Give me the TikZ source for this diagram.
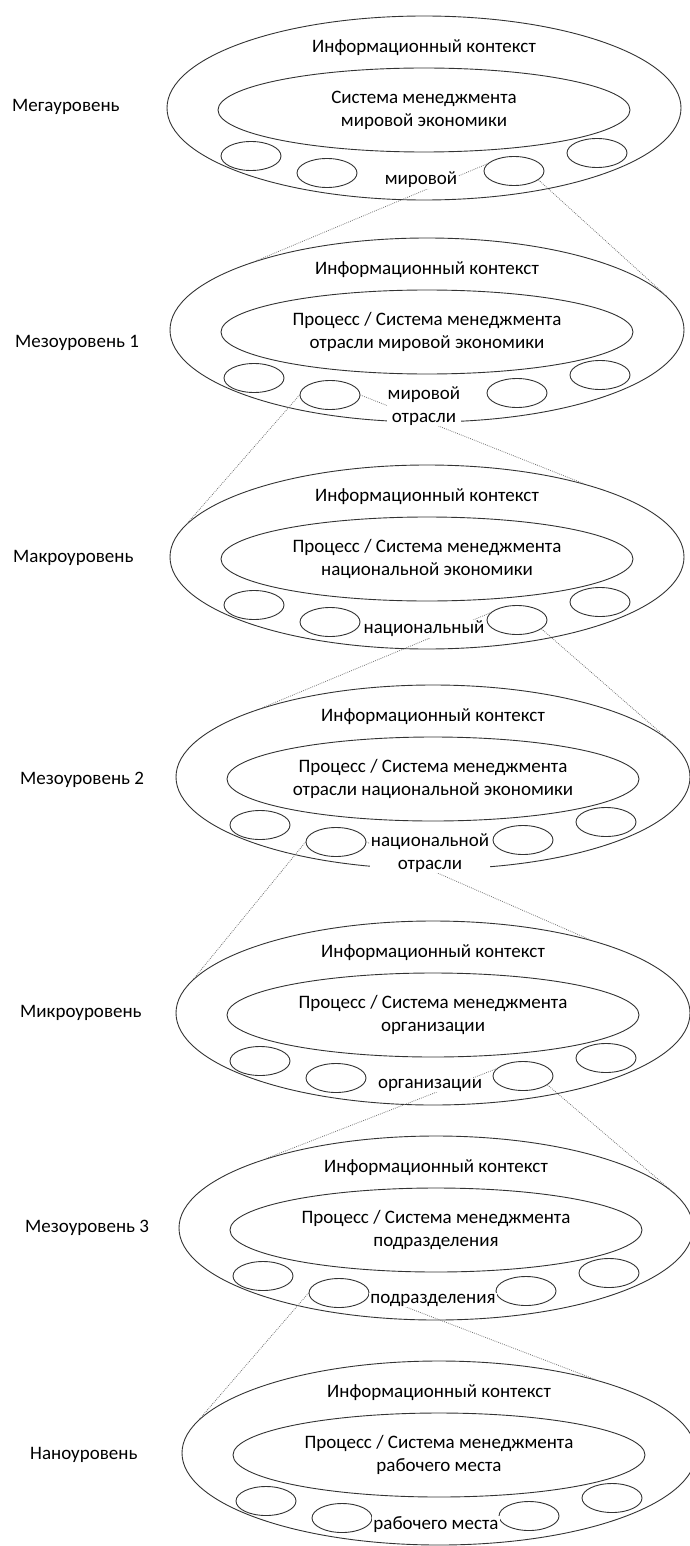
\documentclass[tikz,border=0pt]{standalone}
\usepackage{fontspec}
\setmainfont{Carlito}
\usetikzlibrary{shapes.geometric}

\begin{document}
\begin{tikzpicture}[
        x=1pt, y=-1pt,
        font=\fontsize{19}{23}\selectfont,
        context/.style={ellipse, draw=black!80, line width=0.9pt, minimum width=514pt, minimum height=184pt, inner sep=0pt},
        system/.style={ellipse, draw=black!80, line width=0.9pt, minimum width=412pt, minimum height=84pt, inner sep=0pt, align=center},
        unit/.style={ellipse, draw=black!80, line width=0.9pt, minimum width=60pt, minimum height=29pt, inner sep=0pt},
        levellabel/.style={anchor=west, inner sep=0pt},
        scopelabel/.style={fill=white, inner sep=1pt, align=center},
        zoomline/.style={draw=black!55, line width=0.8pt, dash pattern=on 0.8pt off 1.2pt}
    ]
    \useasboundingbox (0,0) rectangle (690,1546);

    % outer ellipses, systems and units
    \node[context] (ctx1) at (424,108) {};
    \node[system] (sys1) at (424,110) {Система менеджмента\\мировой экономики};
    \node[unit] (u1a) at (251,156) {};
    \node[unit] (u1b) at (327,173) {};
    \node[unit] (u1c) at (514,171) {};
    \node[unit] (u1d) at (597,153) {};

    \node[context] (ctx2) at (427,330) {};
    \node[system] (sys2) at (427,332) {Процесс / Система менеджмента\\отрасли мировой экономики};
    \node[unit] (u2a) at (254,378) {};
    \node[unit] (u2b) at (330,395) {};
    \node[unit] (u2c) at (517,393) {};
    \node[unit] (u2d) at (600,375) {};

    \node[context] (ctx3) at (427,557) {};
    \node[system] (sys3) at (427,559) {Процесс / Система менеджмента\\национальной экономики};
    \node[unit] (u3a) at (254,605) {};
    \node[unit] (u3b) at (330,622) {};
    \node[unit] (u3c) at (517,620) {};
    \node[unit] (u3d) at (600,602) {};

    \node[context] (ctx4) at (433,777) {};
    \node[system] (sys4) at (433,779) {Процесс / Система менеджмента\\отрасли национальной экономики};
    \node[unit] (u4a) at (260,825) {};
    \node[unit] (u4b) at (336,842) {};
    \node[unit] (u4c) at (523,840) {};
    \node[unit] (u4d) at (606,822) {};

    \node[context] (ctx5) at (433,1013) {};
    \node[system] (sys5) at (433,1015) {Процесс / Система менеджмента\\организации};
    \node[unit] (u5a) at (260,1061) {};
    \node[unit] (u5b) at (336,1078) {};
    \node[unit] (u5c) at (523,1076) {};
    \node[unit] (u5d) at (606,1058) {};

    \node[context] (ctx6) at (436,1228) {};
    \node[system] (sys6) at (436,1230) {Процесс / Система менеджмента\\подразделения};
    \node[unit] (u6a) at (263,1276) {};
    \node[unit] (u6b) at (339,1293) {};
    \node[unit] (u6c) at (526,1291) {};
    \node[unit] (u6d) at (609,1273) {};

    \node[context] (ctx7) at (439,1453) {};
    \node[system] (sys7) at (439,1455) {Процесс / Система менеджмента\\рабочего места};
    \node[unit] (u7a) at (266,1501) {};
    \node[unit] (u7b) at (342,1518) {};
    \node[unit] (u7c) at (529,1516) {};
    \node[unit] (u7d) at (612,1498) {};

    % zoom lines to the next level
    \draw[zoomline] (u1c.165) -- (ctx2.158);
    \draw[zoomline] (u1c.-20) -- (ctx2.8);
    \draw[zoomline] (u2b.west) -- (ctx3.172);
    \draw[zoomline] (u2b.east) -- (ctx3.25);
    \draw[zoomline] (u3c.165) -- (ctx4.158);
    \draw[zoomline] (u3c.-20) -- (ctx4.8);
    \draw[zoomline] (u4b.west) -- (ctx5.172);
    \draw[zoomline] (u4b.east) -- (ctx5.25);
    \draw[zoomline] (u5c.165) -- (ctx6.158);
    \draw[zoomline] (u5c.-20) -- (ctx6.8);
    \draw[zoomline] (u6b.west) -- (ctx7.172);
    \draw[zoomline] (u6b.east) -- (ctx7.25);

    % texts
    \node (info1) at (424,48) {Информационный контекст};
    \node (info2) at (427,270) {Информационный контекст};
    \node (info3) at (427,497) {Информационный контекст};
    \node (info4) at (433,717) {Информационный контекст};
    \node (info5) at (433,953) {Информационный контекст};
    \node (info6) at (436,1168) {Информационный контекст};
    \node (info7) at (439,1393) {Информационный контекст};

    \node[scopelabel] (scope1) at (421,180) {мировой};
    \node[scopelabel] (scope2) at (424,406) {мировой\\отрасли};
    \node[scopelabel] (scope3) at (424,629) {национальный};
    \node[scopelabel] (scope4) at (430,853) {национальной\\отрасли};
    \node[scopelabel] (scope5) at (430,1085) {организации};
    \node[scopelabel] (scope6) at (433,1300) {подразделения};
    \node[scopelabel] (scope7) at (436,1525) {рабочего места};

    \node[levellabel] (mega) at (12,107) {Мегауровень};
    \node[levellabel] (meso1) at (15,343) {Мезоуровень 1};
    \node[levellabel] (macro) at (13,558) {Макроуровень};
    \node[levellabel] (meso2) at (20,780) {Мезоуровень 2};
    \node[levellabel] (micro) at (20,1013) {Микроуровень};
    \node[levellabel] (meso3) at (25,1228) {Мезоуровень 3};
    \node[levellabel] (nano) at (30,1455) {Наноуровень};
\end{tikzpicture}
\end{document}
